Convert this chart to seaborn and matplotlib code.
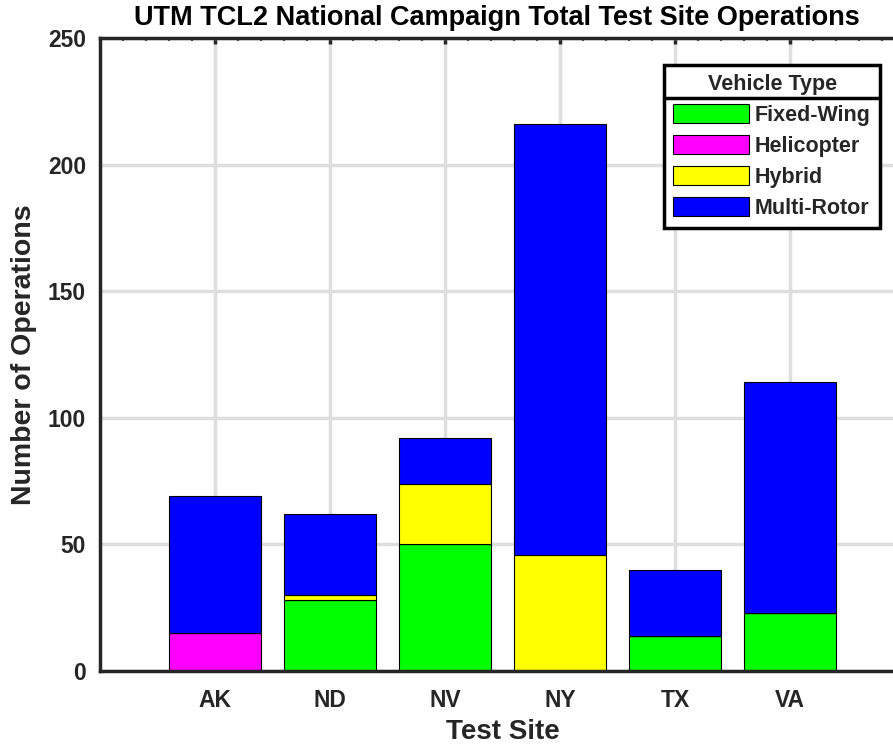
import matplotlib
matplotlib.use('Agg')
import numpy as np
import pandas as pd
import matplotlib.pyplot as plt
import seaborn as sns
from matplotlib.patches import Patch
from matplotlib.lines import Line2D
from matplotlib.ticker import MultipleLocator

# data
sites = ['AK', 'ND', 'NV', 'NY', 'TX', 'VA']
fixed_wing = [0, 28, 50, 0, 14, 23]
helicopter = [15, 0, 0, 0, 0, 0]
hybrid = [0, 2, 24, 46, 0, 0]
multi_rotor = [54, 32, 18, 170, 26, 91]

vehicle_types = ['Fixed-Wing', 'Helicopter', 'Hybrid', 'Multi-Rotor']
colors = ['#00ff00', '#ff00ff', '#ffff00', '#0000ff']

df = pd.DataFrame({'Site': sites, 'Fixed-Wing': fixed_wing, 'Helicopter': helicopter,
                   'Hybrid': hybrid, 'Multi-Rotor': multi_rotor})

sns.set_style('white')
plt.rcParams['font.family'] = ['Liberation Sans', 'DejaVu Sans']
plt.rcParams['font.weight'] = 'bold'
ink = '#262626'

fig = plt.figure(figsize=(8.93, 7.48), dpi=100)
ax = fig.add_axes([100/893, 1-671/748, 805/893, 633/748])

bottom = np.zeros(len(sites))
for vt, c in zip(vehicle_types, colors):
    sns.barplot(data=df, x='Site', y=vt, color=c, bottom=bottom, width=0.8,
                errorbar=None, edgecolor='black', linewidth=0.8, saturation=1, ax=ax)
    bottom = bottom + df[vt].values

ax.set_xlim(-1, 6)
ax.set_ylim(0, 250)
ax.yaxis.set_major_locator(MultipleLocator(50))
ax.yaxis.set_minor_locator(MultipleLocator(10))
ax.xaxis.set_minor_locator(MultipleLocator(0.2))
ax.set_axisbelow(True)
ax.grid(True, which='major', color='#dedede', linewidth=2.5)

for s in ax.spines.values():
    s.set_linewidth(2.5)
    s.set_color(ink)
ax.tick_params(which='both', direction='in', top=True, right=True, color=ink)
ax.tick_params(which='major', length=4, width=2.5, labelsize=16.5, labelcolor=ink)
ax.tick_params(axis='x', which='major', pad=13)
ax.tick_params(axis='y', which='major', pad=10)
ax.tick_params(which='minor', length=2, width=1.5)
for lab in ax.get_xticklabels() + ax.get_yticklabels():
    lab.set_fontweight('bold')

ax.set_xlabel('Test Site', fontsize=20, fontweight='bold', color=ink, labelpad=5)
ax.set_ylabel('Number of Operations', fontsize=20.5, fontweight='bold', color=ink, labelpad=8)
fig.text(497/893, 1-18/748, 'UTM TCL2 National Campaign Total Test Site Operations',
         ha='center', va='center', fontsize=19.5, fontweight='bold', color='black')

handles = [Patch(facecolor=c, edgecolor='black', linewidth=0.8) for c in colors]
leg = ax.legend(handles, vehicle_types, title='Vehicle Type', loc='upper right',
                bbox_to_anchor=(880/893, 1-65/748), bbox_transform=fig.transFigure,
                borderaxespad=0, fancybox=False, framealpha=1, edgecolor='black',
                prop={'size': 15.5, 'weight': 'bold'}, handlelength=3.5, handleheight=1.0,
                labelspacing=0.42, handletextpad=0.3, borderpad=0.42)
leg.get_title().set_fontsize(15.5)
leg.get_title().set_fontweight('bold')
leg.get_frame().set_linewidth(2.5)

fig.canvas.draw()
lb = leg.get_window_extent()
tb = leg.get_title().get_window_extent()
ysep = (tb.y0 - 3) / fig.bbox.height
fig.add_artist(Line2D([lb.x0 / fig.bbox.width, lb.x1 / fig.bbox.width], [ysep, ysep],
                      transform=fig.transFigure, color='black', linewidth=2.5))

fig.savefig('out.png', dpi=100)
